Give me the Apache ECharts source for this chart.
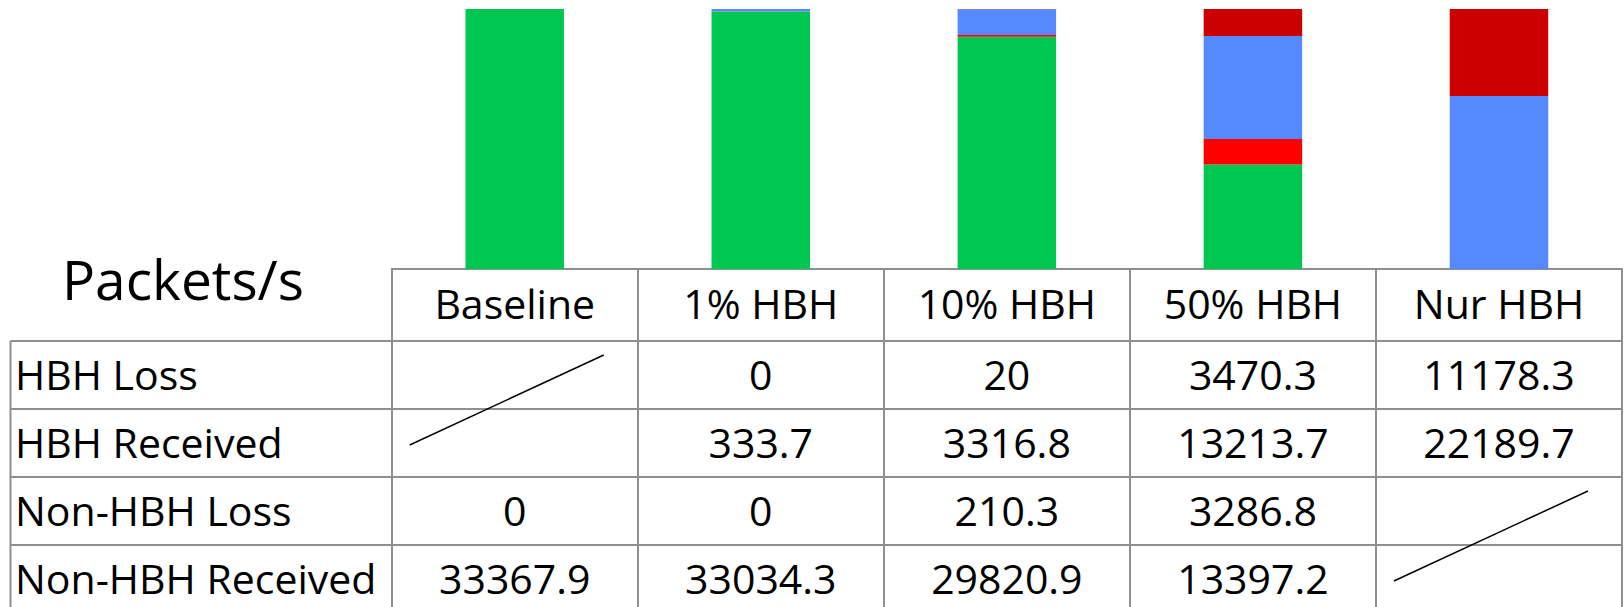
<!DOCTYPE html>
<html>
<head>
<meta charset="utf-8">
<title>Packets/s</title>
<script src="https://cdn.jsdelivr.net/npm/echarts@6/dist/echarts.min.js"></script>
<style>
  html, body { margin: 0; padding: 0; background: #fff; }
  #chart { width: 1624px; height: 607px; }
</style>
</head>
<body>
<div id="chart"></div>
<script>
// data
var categories = ['Baseline', '1% HBH', '10% HBH', '50% HBH', 'Nur HBH'];
var rowLabels = ['HBH Loss', 'HBH Received', 'Non-HBH Loss', 'Non-HBH Received'];
var hbhLoss = [null, 0, 20, 3470.3, 11178.3];
var hbhReceived = [null, 333.7, 3316.8, 13213.7, 22189.7];
var nonHbhLoss = [0, 0, 210.3, 3286.8, null];
var nonHbhReceived = [33367.9, 33034.3, 29820.9, 13397.2, null];
var yMax = 33368;
var unitLabel = 'Packets/s';

var FONT = '"Open Sans", "Noto Sans", sans-serif';
var lineColor = '#8f8f8f';

// table geometry
var tableTop = 269;      // header row top (= axis line)
var firstRowTop = 341;
var rowHeight = 68;
var labelLeft = 10.5;

var chart = echarts.init(document.getElementById('chart'), null, { renderer: 'svg' });

var option = {
  animation: false,
  backgroundColor: '#fff',
  grid: { left: 391.7, right: 2, top: 9, bottom: 607 - tableTop },
  xAxis: {
    type: 'category',
    data: categories,
    axisLine: { show: true, lineStyle: { color: lineColor, width: 2 } },
    axisTick: {
      show: true,
      interval: 0,
      length: 607 - tableTop,
      lineStyle: { color: lineColor, width: 2 }
    },
    axisLabel: {
      interval: 0,
      margin: 13,
      color: '#000',
      fontSize: 41,
      fontFamily: FONT
    },
    splitLine: { show: false }
  },
  yAxis: {
    type: 'value',
    min: 0,
    max: yMax,
    show: false
  },
  series: [
    { name: 'Non-HBH Received', type: 'bar', stack: 'p', barWidth: 98.5, data: nonHbhReceived, itemStyle: { color: '#00c750' } },
    { name: 'Non-HBH Loss', type: 'bar', stack: 'p', barWidth: 98.5, data: nonHbhLoss, itemStyle: { color: '#ff0000' } },
    { name: 'HBH Received', type: 'bar', stack: 'p', barWidth: 98.5, data: hbhReceived, itemStyle: { color: '#5589ff' } },
    { name: 'HBH Loss', type: 'bar', stack: 'p', barWidth: 98.5, data: hbhLoss, itemStyle: { color: '#cc0000' } }
  ]
};
chart.setOption(option);

// table body drawn as graphic elements
var rows = [hbhLoss, hbhReceived, nonHbhLoss, nonHbhReceived];
var colW = chart.convertToPixel({ xAxisIndex: 0 }, 1) - chart.convertToPixel({ xAxisIndex: 0 }, 0);
var tableRight = 1622;
var graphics = [];

graphics.push({
  type: 'text',
  style: { text: unitLabel, x: 183, y: 278, fill: '#000', font: '55px ' + FONT, align: 'center', verticalAlign: 'middle' }
});

// horizontal row lines and left border
for (var r = 0; r < rows.length; r++) {
  var y = firstRowTop + r * rowHeight;
  graphics.push({
    type: 'line', silent: true,
    shape: { x1: labelLeft, y1: y, x2: tableRight, y2: y },
    style: { stroke: lineColor, lineWidth: 2 }
  });
}
graphics.push({
  type: 'line', silent: true,
  shape: { x1: labelLeft, y1: firstRowTop, x2: labelLeft, y2: 607 },
  style: { stroke: lineColor, lineWidth: 2 }
});

// row labels and cells
rows.forEach(function (vals, r) {
  var cy = firstRowTop + r * rowHeight + rowHeight / 2 - 1;
  graphics.push({
    type: 'text',
    style: { text: rowLabels[r], x: 15, y: cy, fill: '#000', font: '41px ' + FONT, align: 'left', verticalAlign: 'middle' }
  });
  vals.forEach(function (v, c) {
    if (v === null) return;
    graphics.push({
      type: 'text',
      style: { text: String(v), x: chart.convertToPixel({ xAxisIndex: 0 }, c), y: cy, fill: '#000', font: '41px ' + FONT, align: 'center', verticalAlign: 'middle' }
    });
  });
});

// diagonal slashes over empty cell spans
categories.forEach(function (cat, c) {
  var start = -1;
  for (var r = 0; r <= rows.length; r++) {
    var empty = r < rows.length && rows[r][c] === null;
    if (empty && start < 0) start = r;
    if (!empty && start >= 0) {
      var cx = chart.convertToPixel({ xAxisIndex: 0 }, c);
      var top = firstRowTop + start * rowHeight;
      var bottom = firstRowTop + r * rowHeight;
      graphics.push({
        type: 'line', silent: true,
        shape: { x1: cx - colW / 2 + 18, y1: bottom - 32, x2: cx + colW / 2 - 34, y2: top + 14 },
        style: { stroke: '#000', lineWidth: 1.5 }
      });
      start = -1;
    }
  }
});

chart.setOption({ graphic: graphics });
</script>
</body>
</html>
